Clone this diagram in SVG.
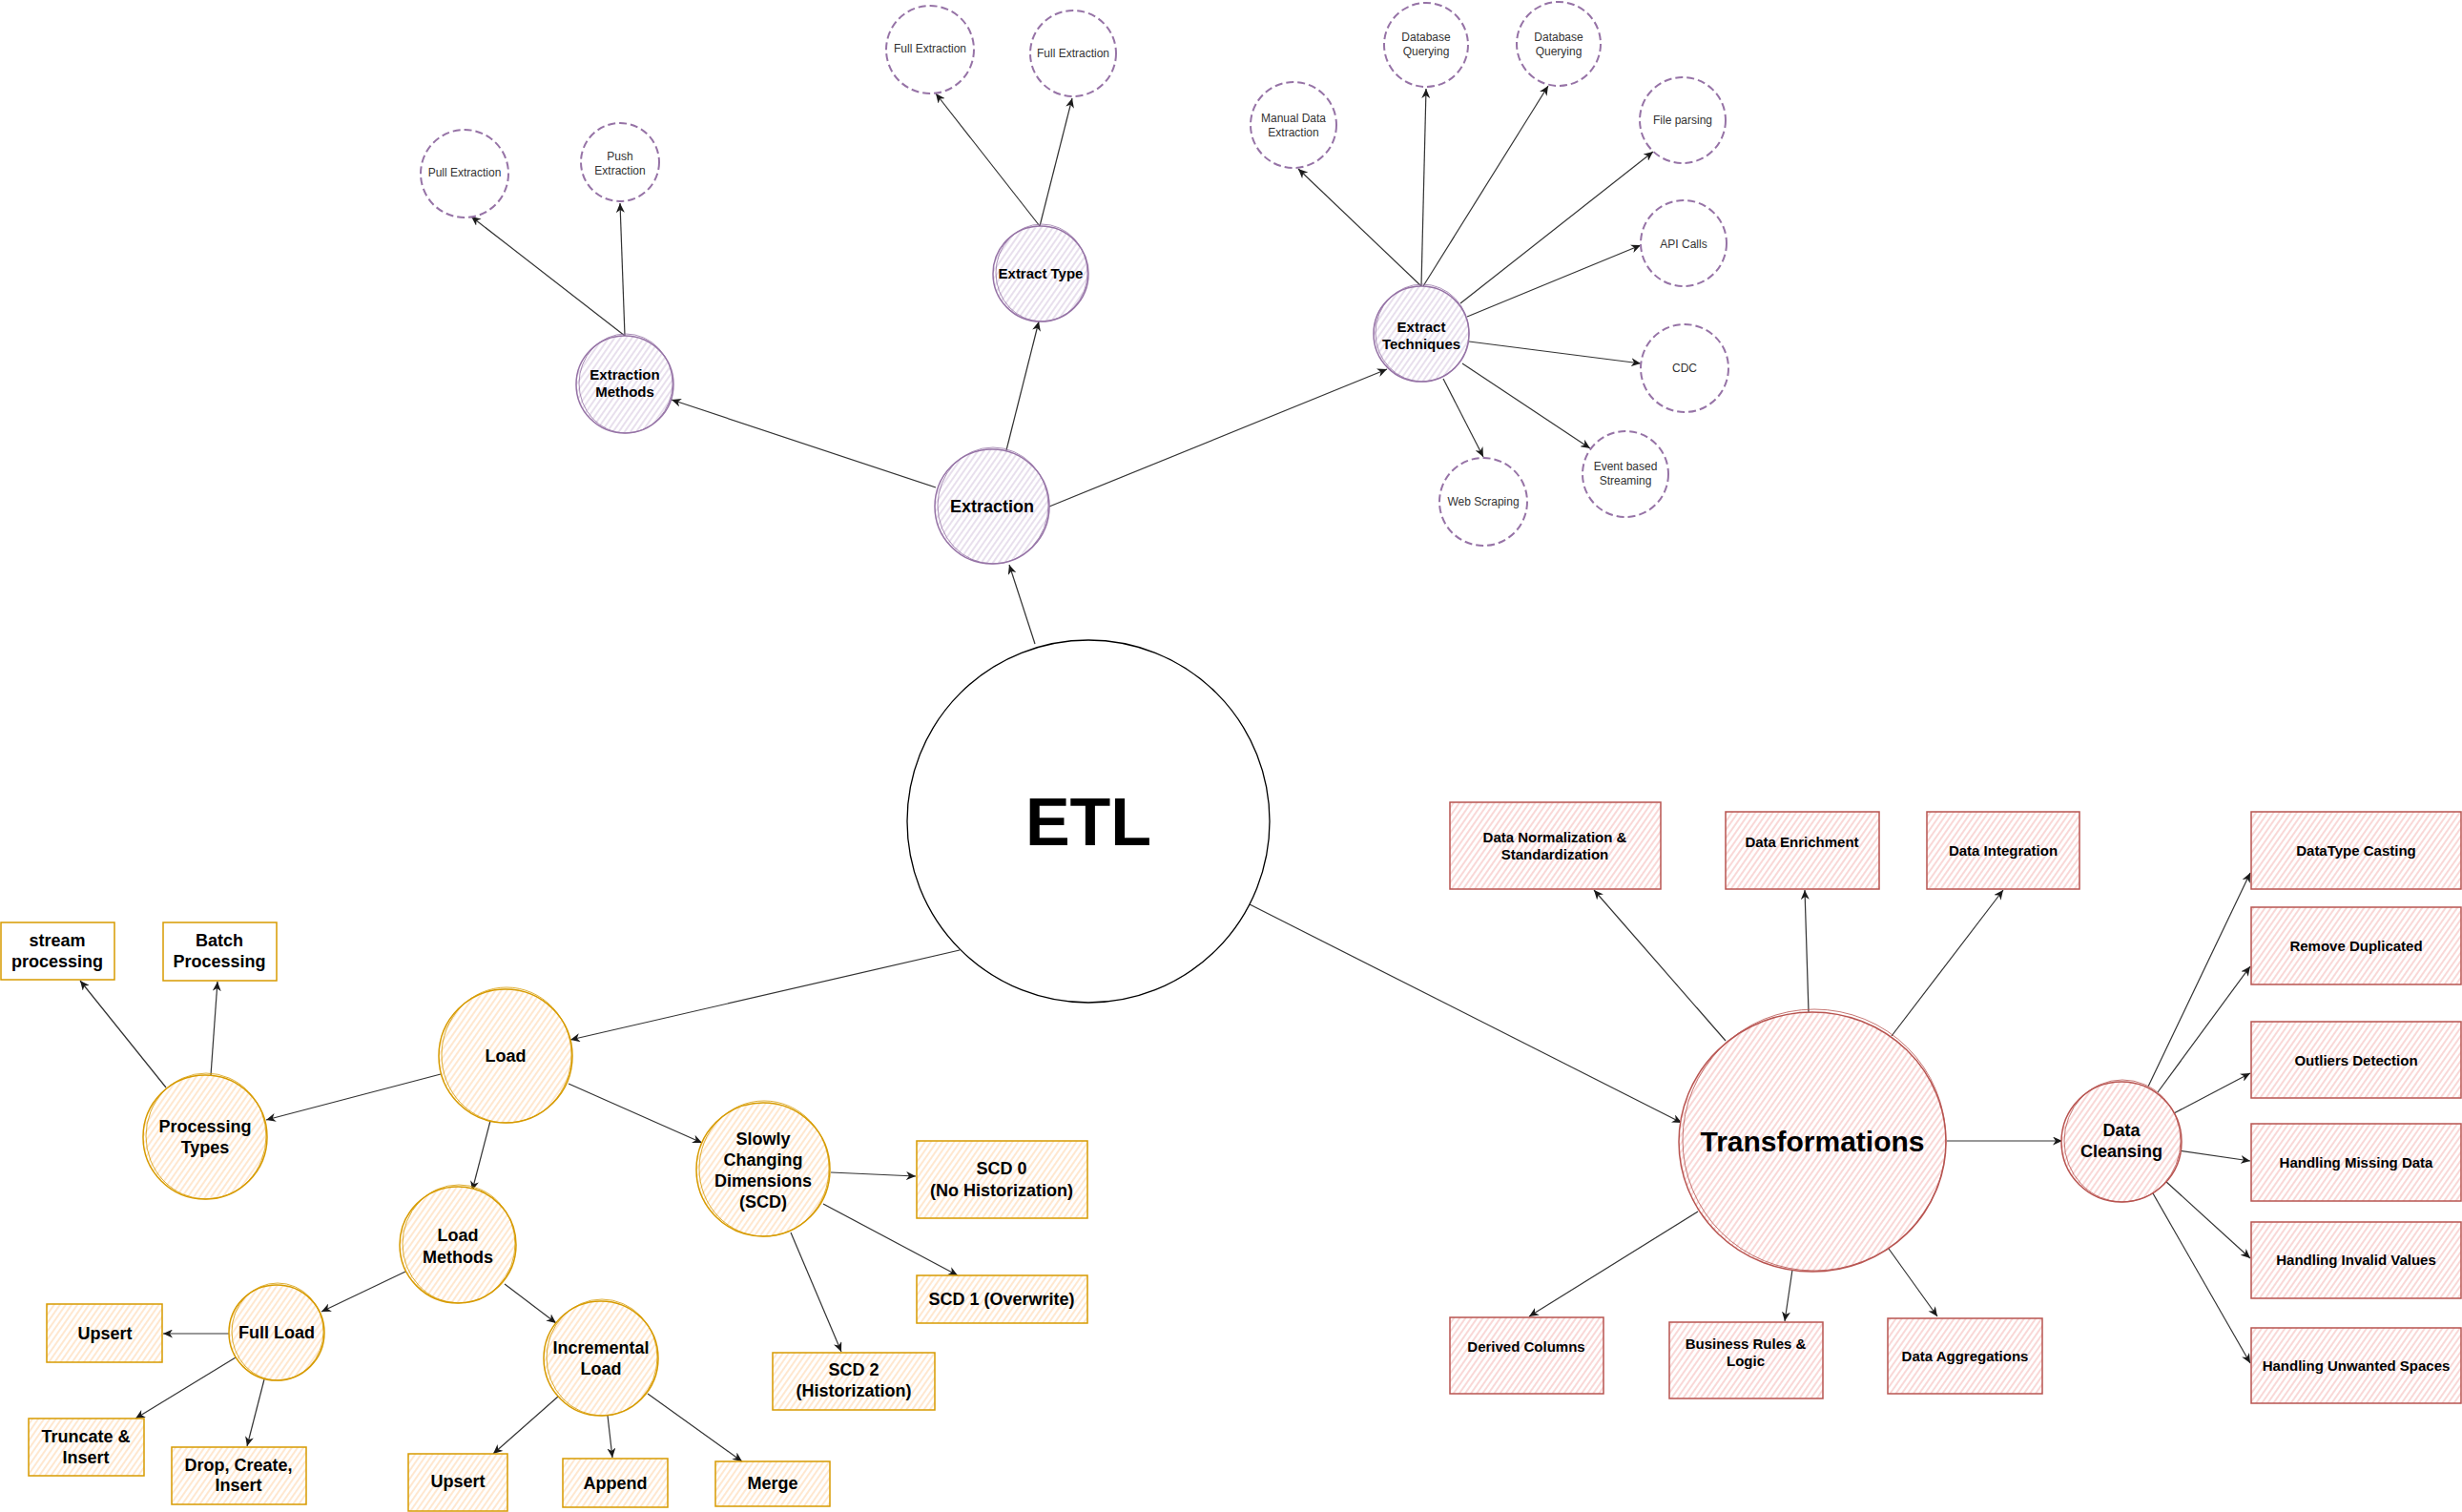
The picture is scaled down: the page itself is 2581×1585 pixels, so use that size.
<svg xmlns="http://www.w3.org/2000/svg" width="2581" height="1585" viewBox="0 0 2581 1585">
<defs>
<pattern id="hP" width="5" height="5" patternUnits="userSpaceOnUse" patternTransform="rotate(35)"><rect width="5" height="5" fill="#fff"/><line x1="1" y1="0" x2="1" y2="5" stroke="#dccfe4" stroke-width="1.3"/></pattern>
<pattern id="hO" width="5" height="5" patternUnits="userSpaceOnUse" patternTransform="rotate(35)"><rect width="5" height="5" fill="#fff"/><line x1="1" y1="0" x2="1" y2="5" stroke="#ffe2c4" stroke-width="1.6"/></pattern>
<pattern id="hR" width="5" height="5" patternUnits="userSpaceOnUse" patternTransform="rotate(35)"><rect width="5" height="5" fill="#fff"/><line x1="1" y1="0" x2="1" y2="5" stroke="#f8cfcd" stroke-width="1.6"/></pattern>
<marker id="ar" markerUnits="userSpaceOnUse" markerWidth="11" markerHeight="9" refX="10" refY="4.5" orient="auto"><path d="M0,0 L10,4.5 L0,9 L3,4.5 Z" fill="#1a1a1a"/></marker>
</defs>
<style>
text{font-family:"Liberation Sans",Arial,sans-serif;text-anchor:middle;fill:#000}
.b{font-weight:bold}
.s12{font-size:12px;fill:#333}
.s15{font-size:15px}
.s18{font-size:18px}
.cP{fill:url(#hP);stroke:#9673a6;stroke-width:1.5}
.cO{fill:url(#hO);stroke:#d79b00;stroke-width:1.5}
.cR{fill:url(#hR);stroke:#b85450;stroke-width:1.5}
.cOw{fill:#fff;stroke:#d79b00;stroke-width:1.5}
.o2P{fill:none;stroke:#9673a6;stroke-width:0.8}
.o2O{fill:none;stroke:#d79b00;stroke-width:0.8}
.o2R{fill:none;stroke:#b85450;stroke-width:0.8}
.d{fill:#fff;stroke:#9673a6;stroke-width:2;stroke-dasharray:8 4}
.e path{fill:none;stroke:#333;stroke-width:1.2;marker-end:url(#ar)}
</style>
<rect width="2581" height="1585" fill="#fff"/>

<g class="e" id="connectors">
<path d="M1085,675 L1058,592"/>
<path d="M981,511 L704,419"/>
<path d="M1055,472 L1089,337"/>
<path d="M1100,531 L1454,387"/>
<path d="M1090,237 L981,98"/>
<path d="M1090,237 L1124,103"/>
<path d="M655,352 L494,227"/>
<path d="M655,352 L650,213"/>
<path d="M1490,300 L1361,177"/>
<path d="M1490,300 L1495,93"/>
<path d="M1492,300 L1623,90"/>
<path d="M1531,318 L1733,159"/>
<path d="M1538,332 L1720,257"/>
<path d="M1540,358 L1720,381"/>
<path d="M1533,381 L1667,470"/>
<path d="M1513,397 L1555,479"/>
<path d="M1006,996 L598,1090"/>
<path d="M462,1126 L279,1174"/>
<path d="M174,1140 L84,1028"/>
<path d="M221,1127 L228,1029"/>
<path d="M514,1175 L495,1248"/>
<path d="M425,1333 L337,1375"/>
<path d="M529,1346 L583,1387"/>
<path d="M240,1398 L171,1398"/>
<path d="M247,1423 L142,1487"/>
<path d="M277,1446 L259,1516"/>
<path d="M596,1136 L736,1198"/>
<path d="M871,1229 L960,1233"/>
<path d="M863,1262 L1004,1337"/>
<path d="M829,1292 L882,1417"/>
<path d="M585,1464 L517,1524"/>
<path d="M637,1484 L642,1528"/>
<path d="M679,1461 L778,1532"/>
<path d="M1310,948 L1763,1177"/>
<path d="M1809,1091 L1671,933"/>
<path d="M1896,1061 L1892,933"/>
<path d="M1983,1086 L2100,933"/>
<path d="M1780,1270 L1603,1380"/>
<path d="M1879,1331 L1871,1385"/>
<path d="M1980,1309 L2031,1380"/>
<path d="M2041,1196 L2162,1196"/>
<path d="M2252,1139 L2359,915"/>
<path d="M2262,1145 L2359,1013"/>
<path d="M2279,1167 L2359,1125"/>
<path d="M2284,1206 L2359,1217"/>
<path d="M2270,1238 L2359,1319"/>
<path d="M2257,1251 L2359,1429"/>
</g>

<g id="etl"><circle cx="1141" cy="861" r="190" fill="#fff" stroke="#000" stroke-width="1.3"/><text x="1141" y="886" class="b" style="font-size:70px">ETL</text></g>

<g id="extraction"><circle class="cP" cx="1040" cy="531" r="60"/><ellipse class="o2P" cx="1041" cy="530" rx="58" ry="61"/><text x="1040" y="537" class="b s18">Extraction</text></g>
<g id="extraction-methods"><circle class="cP" cx="655" cy="403" r="51"/><ellipse class="o2P" cx="656" cy="402" rx="49" ry="52"/><text x="655" y="398" class="b s15">Extraction</text><text x="655" y="416" class="b s15">Methods</text></g>
<g id="extract-type"><circle class="cP" cx="1091" cy="287" r="50"/><ellipse class="o2P" cx="1092" cy="286" rx="48" ry="51"/><text x="1091" y="292" class="b s15">Extract Type</text></g>
<g id="extract-techniques"><circle class="cP" cx="1490" cy="350" r="50"/><ellipse class="o2P" cx="1491" cy="349" rx="49" ry="51"/><text x="1490" y="348" class="b s15">Extract</text><text x="1490" y="366" class="b s15">Techniques</text></g>

<g id="pull-extraction"><circle class="d" cx="487" cy="182" r="46"/><text x="487" y="185" class="s12">Pull Extraction</text></g>
<g id="push-extraction"><circle class="d" cx="650" cy="170" r="41"/><text x="650" y="168" class="s12">Push</text><text x="650" y="183" class="s12">Extraction</text></g>
<g id="full-extraction-1"><circle class="d" cx="975" cy="52" r="46"/><text x="975" y="55" class="s12">Full Extraction</text></g>
<g id="full-extraction-2"><circle class="d" cx="1125" cy="56" r="45"/><text x="1125" y="60" class="s12">Full Extraction</text></g>
<g id="manual-data-extraction"><circle class="d" cx="1356" cy="131" r="45"/><text x="1356" y="128" class="s12">Manual Data</text><text x="1356" y="143" class="s12">Extraction</text></g>
<g id="database-querying-1"><circle class="d" cx="1495" cy="47" r="44"/><text x="1495" y="43" class="s12">Database</text><text x="1495" y="58" class="s12">Querying</text></g>
<g id="database-querying-2"><circle class="d" cx="1634" cy="46" r="44"/><text x="1634" y="43" class="s12">Database</text><text x="1634" y="58" class="s12">Querying</text></g>
<g id="file-parsing"><circle class="d" cx="1764" cy="126" r="45"/><text x="1764" y="130" class="s12">File parsing</text></g>
<g id="api-calls"><circle class="d" cx="1765" cy="255" r="45"/><text x="1765" y="260" class="s12">API Calls</text></g>
<g id="cdc"><circle class="d" cx="1766" cy="386" r="46"/><text x="1766" y="390" class="s12">CDC</text></g>
<g id="event-streaming"><circle class="d" cx="1704" cy="497" r="45"/><text x="1704" y="493" class="s12">Event based</text><text x="1704" y="508" class="s12">Streaming</text></g>
<g id="web-scraping"><circle class="d" cx="1555" cy="526" r="46"/><text x="1555" y="530" class="s12">Web Scraping</text></g>

<g id="load"><circle class="cO" cx="530" cy="1107" r="70"/><ellipse class="o2O" cx="531" cy="1106" rx="68" ry="71"/><text x="530" y="1113" class="b s18">Load</text></g>
<g id="processing-types"><circle class="cO" cx="215" cy="1192" r="65"/><ellipse class="o2O" cx="216" cy="1191" rx="63" ry="66"/><text x="215" y="1187" class="b s18">Processing</text><text x="215" y="1209" class="b s18">Types</text></g>
<g id="load-methods"><circle class="cO" cx="480" cy="1305" r="61"/><ellipse class="o2O" cx="481" cy="1304" rx="59" ry="62"/><text x="480" y="1301" class="b s18">Load</text><text x="480" y="1324" class="b s18">Methods</text></g>
<g id="full-load"><circle class="cO" cx="290" cy="1397" r="50"/><ellipse class="o2O" cx="291" cy="1396" rx="48" ry="51"/><text x="290" y="1403" class="b s18">Full Load</text></g>
<g id="scd"><circle class="cO" cx="800" cy="1226" r="70"/><ellipse class="o2O" cx="801" cy="1225" rx="68" ry="71"/><text x="800" y="1200" class="b s18">Slowly</text><text x="800" y="1222" class="b s18">Changing</text><text x="800" y="1244" class="b s18">Dimensions</text><text x="800" y="1266" class="b s18">(SCD)</text></g>
<g id="incremental-load"><circle class="cO" cx="630" cy="1424" r="60"/><ellipse class="o2O" cx="631" cy="1423" rx="58" ry="61"/><text x="630" y="1419" class="b s18">Incremental</text><text x="630" y="1441" class="b s18">Load</text></g>

<g id="stream-processing"><rect class="cOw" x="1" y="967" width="119" height="60"/><text x="60" y="992" class="b s18">stream</text><text x="60" y="1014" class="b s18">processing</text></g>
<g id="batch-processing"><rect class="cOw" x="171" y="967" width="119" height="61"/><text x="230" y="992" class="b s18">Batch</text><text x="230" y="1014" class="b s18">Processing</text></g>
<g id="upsert-full"><rect class="cO" x="49" y="1367" width="121" height="61"/><text x="110" y="1404" class="b s18">Upsert</text></g>
<g id="truncate-insert"><rect class="cO" x="30" y="1487" width="121" height="60"/><text x="90" y="1512" class="b s18">Truncate &amp;</text><text x="90" y="1534" class="b s18">Insert</text></g>
<g id="drop-create-insert"><rect class="cO" x="180" y="1517" width="141" height="60"/><text x="250" y="1542" class="b s18">Drop, Create,</text><text x="250" y="1563" class="b s18">Insert</text></g>
<g id="scd0"><rect class="cO" x="961" y="1196" width="179" height="81"/><text x="1050" y="1231" class="b s18">SCD 0</text><text x="1050" y="1254" class="b s18">(No Historization)</text></g>
<g id="scd1"><rect class="cO" x="961" y="1337" width="179" height="50"/><text x="1050" y="1368" class="b s18">SCD 1 (Overwrite)</text></g>
<g id="scd2"><rect class="cO" x="810" y="1418" width="170" height="60"/><text x="895" y="1442" class="b s18">SCD 2</text><text x="895" y="1464" class="b s18">(Historization)</text></g>
<g id="upsert-incr"><rect class="cO" x="428" y="1524" width="104" height="60"/><text x="480" y="1559" class="b s18">Upsert</text></g>
<g id="append"><rect class="cO" x="590" y="1529" width="110" height="51"/><text x="645" y="1561" class="b s18">Append</text></g>
<g id="merge"><rect class="cO" x="750" y="1532" width="120" height="47"/><text x="810" y="1561" class="b s18">Merge</text></g>

<g id="transformations"><ellipse class="cR" cx="1900" cy="1197" rx="140" ry="136"/><ellipse class="o2R" cx="1902" cy="1195" rx="138" ry="137"/><text x="1900" y="1207" class="b" style="font-size:30px">Transformations</text></g>
<g id="data-cleansing"><circle class="cR" cx="2224" cy="1197" r="63"/><ellipse class="o2R" cx="2225" cy="1196" rx="61" ry="64"/><text x="2224" y="1191" class="b s18">Data</text><text x="2224" y="1213" class="b s18">Cleansing</text></g>

<g id="data-normalization"><rect class="cR" x="1520" y="841" width="221" height="91"/><text x="1630" y="883" class="b s15">Data Normalization &amp;</text><text x="1630" y="901" class="b s15">Standardization</text></g>
<g id="data-enrichment"><rect class="cR" x="1809" y="851" width="161" height="81"/><text x="1889" y="888" class="b s15">Data Enrichment</text></g>
<g id="data-integration"><rect class="cR" x="2020" y="851" width="160" height="81"/><text x="2100" y="897" class="b s15">Data Integration</text></g>
<g id="derived-columns"><rect class="cR" x="1520" y="1381" width="161" height="80"/><text x="1600" y="1417" class="b s15">Derived Columns</text></g>
<g id="business-rules"><rect class="cR" x="1750" y="1386" width="161" height="80"/><text x="1830" y="1414" class="b s15">Business Rules &amp;</text><text x="1830" y="1432" class="b s15">Logic</text></g>
<g id="data-aggregations"><rect class="cR" x="1979" y="1382" width="162" height="79"/><text x="2060" y="1427" class="b s15">Data Aggregations</text></g>

<g id="datatype-casting"><rect class="cR" x="2360" y="851" width="220" height="81"/><text x="2470" y="897" class="b s15">DataType Casting</text></g>
<g id="remove-duplicated"><rect class="cR" x="2360" y="951" width="220" height="81"/><text x="2470" y="997" class="b s15">Remove Duplicated</text></g>
<g id="outliers-detection"><rect class="cR" x="2360" y="1071" width="220" height="80"/><text x="2470" y="1117" class="b s15">Outliers Detection</text></g>
<g id="handling-missing"><rect class="cR" x="2360" y="1178" width="220" height="81"/><text x="2470" y="1224" class="b s15">Handling Missing Data</text></g>
<g id="handling-invalid"><rect class="cR" x="2360" y="1281" width="220" height="80"/><text x="2470" y="1326" class="b s15">Handling Invalid Values</text></g>
<g id="handling-spaces"><rect class="cR" x="2360" y="1392" width="220" height="79"/><text x="2470" y="1437" class="b s15">Handling Unwanted Spaces</text></g>
</svg>
